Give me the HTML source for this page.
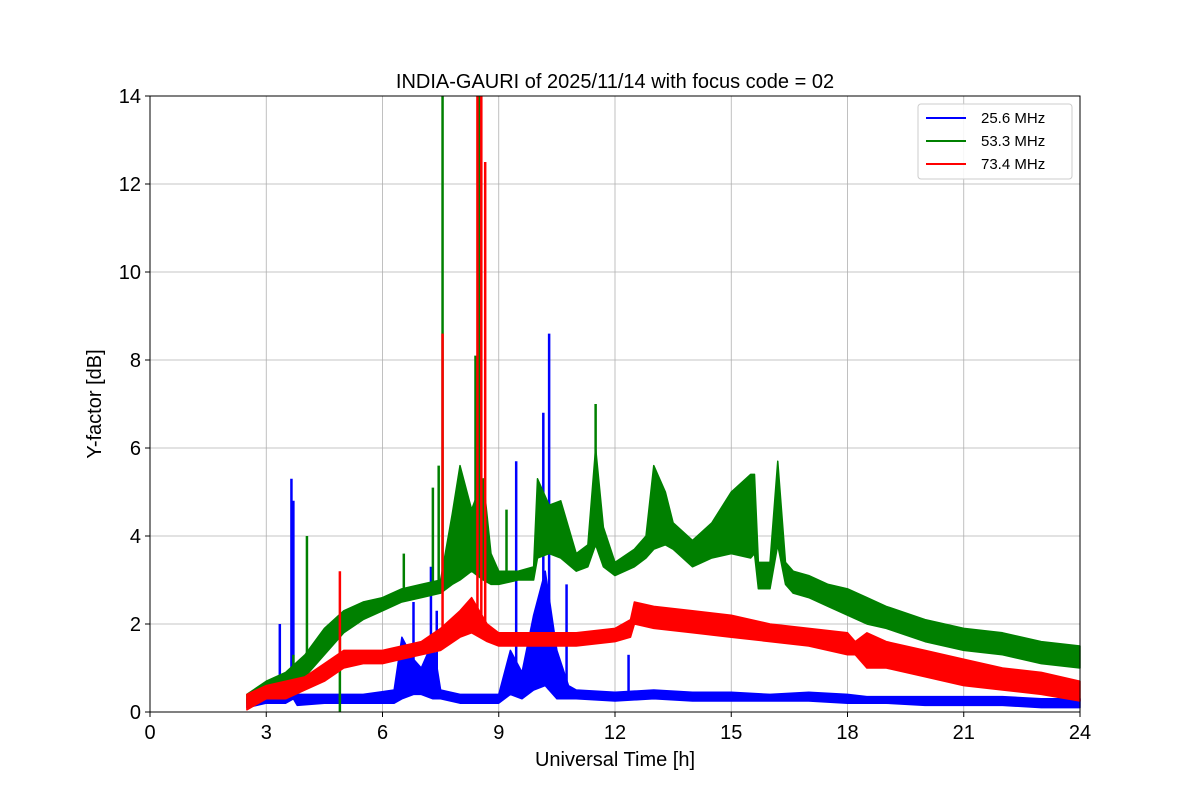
<!DOCTYPE html>
<html><head><meta charset="utf-8"><style>
body{margin:0;background:#fff;font-family:"Liberation Sans","DejaVu Sans",sans-serif}
</style></head><body>
<svg id="c" width="1200" height="800" xmlns="http://www.w3.org/2000/svg"></svg>
<script>
const xTicks=[0,3,6,9,12,15,18,21,24];
const yTicks=[0,2,4,6,8,10,12,14];
const seriesNames=["25.6 MHz","53.3 MHz","73.4 MHz"];
const seriesColors=["#0000ff","#008000","#ff0000"];
// blue 25.6 MHz envelope
const blueT=[2.5,3,3.5,3.7,3.8,4.5,5.5,6.3,6.5,6.8,7,7.3,7.5,8,8.5,9,9.3,9.6,9.9,10.2,10.5,10.8,11,12,13,14,15,16,17,18,18.5,19,20,21,22,23,24];
const blueLo=[0.1,0.2,0.2,0.3,0.15,0.2,0.2,0.2,0.3,0.4,0.4,0.3,0.3,0.2,0.2,0.2,0.4,0.3,0.5,0.6,0.3,0.3,0.3,0.25,0.3,0.25,0.25,0.25,0.25,0.2,0.2,0.2,0.15,0.15,0.15,0.1,0.1];
const blueHi=[0.3,0.5,0.5,0.6,0.4,0.4,0.4,0.5,1.7,1.2,1.0,1.6,0.5,0.4,0.4,0.4,1.4,0.9,2.2,3.2,1.4,0.6,0.5,0.45,0.5,0.45,0.45,0.4,0.45,0.4,0.35,0.35,0.35,0.35,0.35,0.3,0.3];
const blueSpikeT=[3.35,3.65,3.7,6.8,7.25,7.4,9.45,9.9,10.15,10.3,10.75,12.35];
const blueSpikeV=[2.0,5.3,4.8,2.5,3.3,2.3,5.7,2.1,6.8,8.6,2.9,1.3];
// green 53.3 MHz envelope
const greenT=[2.5,3,3.5,4,4.5,5,5.5,6,6.5,7,7.5,7.8,8,8.3,8.6,8.8,9,9.5,9.9,10,10.3,10.6,11,11.3,11.5,11.7,12,12.5,12.8,13,13.3,13.5,14,14.5,15,15.5,15.6,15.7,16,16.2,16.4,16.6,17,17.5,18,18.5,19,20,21,22,23,24];
const greenLo=[0.2,0.4,0.5,0.8,1.3,1.8,2.1,2.3,2.5,2.6,2.7,2.9,3.0,3.2,3.0,2.9,2.9,3.0,3.0,3.5,3.6,3.5,3.2,3.3,3.8,3.3,3.1,3.3,3.5,3.7,3.8,3.7,3.3,3.5,3.6,3.5,3.6,2.8,2.8,3.8,2.9,2.7,2.6,2.4,2.2,2.0,1.9,1.6,1.4,1.3,1.1,1.0];
const greenHi=[0.4,0.7,0.9,1.3,1.9,2.3,2.5,2.6,2.8,2.9,3.0,4.5,5.6,4.6,5.3,3.6,3.2,3.2,3.3,5.3,4.7,4.8,3.6,3.8,6.0,4.2,3.4,3.7,4.0,5.6,5.0,4.3,3.9,4.3,5.0,5.4,5.4,3.4,3.4,5.7,3.4,3.2,3.1,2.9,2.8,2.6,2.4,2.1,1.9,1.8,1.6,1.5];
const greenSpikeT=[3.7,4.05,4.9,6.55,7.3,7.45,7.55,8.4,8.5,9.2,11.5];
const greenSpikeV=[1.3,4.0,0.0,3.6,5.1,5.6,14,8.1,14,4.6,7.0];
// red 73.4 MHz envelope
const redT=[2.5,3,3.5,4,4.5,5,5.5,6,6.5,7,7.5,8,8.3,8.7,9,9.5,10,11,12,12.4,12.5,13,14,15,16,17,18,18.2,18.5,19,20,21,22,23,24];
const redLo=[0.05,0.3,0.3,0.5,0.7,1.0,1.1,1.1,1.2,1.3,1.4,1.7,1.8,1.6,1.5,1.5,1.5,1.5,1.6,1.7,2.0,1.9,1.8,1.7,1.6,1.5,1.3,1.3,1.0,1.0,0.8,0.6,0.5,0.4,0.25];
const redHi=[0.4,0.6,0.7,0.8,1.1,1.4,1.4,1.4,1.5,1.6,1.9,2.3,2.6,2.0,1.8,1.8,1.8,1.8,1.9,2.1,2.5,2.4,2.3,2.2,2.0,1.9,1.8,1.6,1.8,1.6,1.4,1.2,1.0,0.9,0.7];
const redSpikeT=[4.9,7.55,8.45,8.55,8.65];
const redSpikeV=[3.2,8.6,14,14,12.5];

const svg=document.getElementById('c');const NS="http://www.w3.org/2000/svg";
const L=150,R=1080,T=96,B=712;
const X=v=>L+(v/24)*(R-L), Y=v=>B-(v/14)*(B-T);
function el(tag,attrs,parent){const e=document.createElementNS(NS,tag);for(const k in attrs)e.setAttribute(k,attrs[k]);(parent||svg).appendChild(e);return e;}
function interp(ts,vs,t){for(let i=0;i<ts.length-1;i++){if(t>=ts[i]&&t<=ts[i+1]){const f=(t-ts[i])/(ts[i+1]-ts[i]);return vs[i]+f*(vs[i+1]-vs[i]);}}return vs[vs.length-1];}
// grid
xTicks.forEach(t=>{const g=el('line',{x1:X(t),x2:X(t),y1:T,y2:B,stroke:'#b0b0b0','stroke-width':0.8});
});
yTicks.forEach(t=>{const g=el('line',{x1:L,x2:R,y1:Y(t),y2:Y(t),stroke:'#b0b0b0','stroke-width':0.8});
});
function drawSeries(ts,lo,hi,st,sv,color,name){
  const g=el('g',{});
  
  
  let pts=ts.map((t,i)=>X(t)+','+Y(hi[i]));
  for(let i=ts.length-1;i>=0;i--)pts.push(X(ts[i])+','+Y(lo[i]));
  const p=el('polygon',{points:pts.join(' '),fill:color,stroke:color,'stroke-width':1.5,'stroke-linejoin':'round'},g);
  
  
  st.forEach((t,i)=>{const base=interp(ts,lo,t);
    const s=el('line',{x1:X(t),x2:X(t),y1:Y(base),y2:Y(sv[i]),stroke:color,'stroke-width':2.5},g);
    
    });
}
drawSeries(blueT,blueLo,blueHi,blueSpikeT,blueSpikeV,seriesColors[0],'series-25-6-mhz');
drawSeries(greenT,greenLo,greenHi,greenSpikeT,greenSpikeV,seriesColors[1],'series-53-3-mhz');
drawSeries(redT,redLo,redHi,redSpikeT,redSpikeV,seriesColors[2],'series-73-4-mhz');
// frame
const fr=el('rect',{x:L,y:T,width:R-L,height:B-T,fill:'none',stroke:'#000','stroke-width':1});

xTicks.forEach(t=>{el('line',{x1:X(t),x2:X(t),y1:B,y2:B+5,stroke:'#000'});
const tx=el('text',{x:X(t),y:B+27,'text-anchor':'middle','font-size':20});tx.textContent=t;
});
yTicks.forEach(t=>{el('line',{x1:L-5,x2:L,y1:Y(t),y2:Y(t),stroke:'#000'});
const tx=el('text',{x:L-9,y:Y(t)+7,'text-anchor':'end','font-size':20});tx.textContent=t;
});
let t1=el('text',{x:615,y:88,'text-anchor':'middle','font-size':20});t1.textContent='INDIA-GAURI of 2025/11/14 with focus code = 02';

let t2=el('text',{x:615,y:766,'text-anchor':'middle','font-size':20});t2.textContent='Universal Time [h]';

let t3=el('text',{x:101,y:404,'text-anchor':'middle','font-size':20,transform:'rotate(-90 101 404)'});t3.textContent='Y-factor [dB]';

// legend
const lg=el('g',{});

el('rect',{x:918,y:104,width:154,height:75,rx:3,fill:'#fff','fill-opacity':0.85,stroke:'#ccc'},lg);
seriesNames.forEach((n,i)=>{const y=118+i*23;
const e=el('g',{},lg);

el('line',{x1:926,x2:966,y1:y,y2:y,stroke:seriesColors[i],'stroke-width':2},e);
const tx=el('text',{x:981,y:y+5,'font-size':15},e);tx.textContent=n;});
</script>
</body></html>
